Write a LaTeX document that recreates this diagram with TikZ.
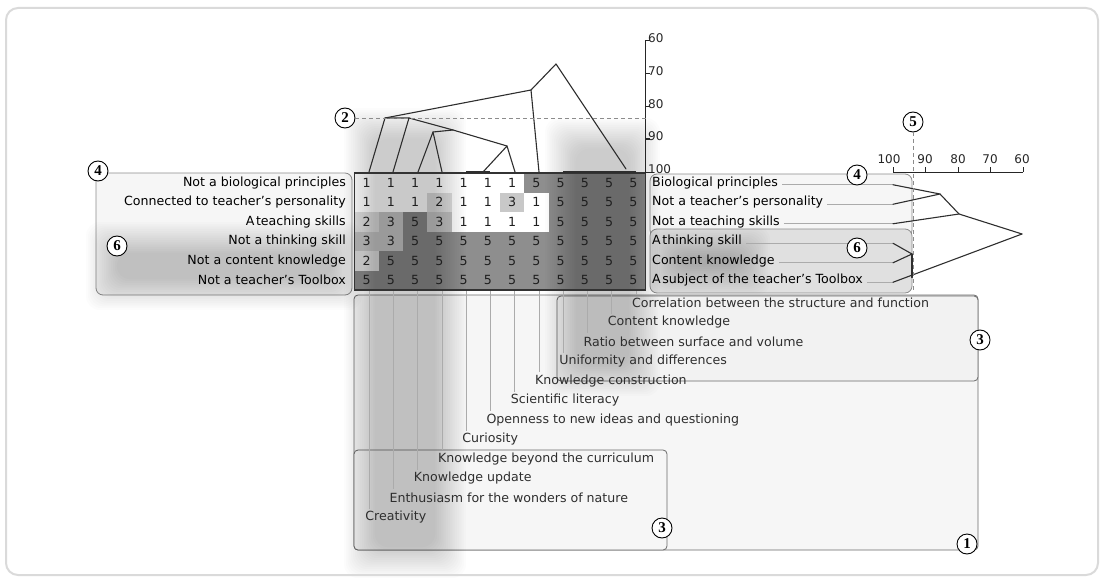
\documentclass[tikz,border=0pt]{standalone}
\usepackage{fontspec}
\setmainfont{DejaVu Sans}
\newfontfamily\tagfont{Liberation Serif}
\definecolor{framegray}{HTML}{DADADA}
\definecolor{boxline}{HTML}{6A6A6A}
\definecolor{boxfill}{HTML}{F6F6F6}
\definecolor{leafline}{HTML}{ABABAB}
\definecolor{val1}{HTML}{FFFFFF}
\definecolor{val2}{HTML}{E2E2E2}
\definecolor{val3}{HTML}{C8C8C8}
\definecolor{val5}{HTML}{8E8E8E}
\pgfdeclarelayer{back}
\pgfdeclarelayer{haze}
\pgfsetlayers{back,haze,main}
% soft grey patch: left x, top y, right x, bottom y
\newcommand\softpatch[4]{%
  \foreach \k in {0,...,17}{%
    \fill[black, opacity=0.0135, rounded corners=14pt]
      (#1+\k*1.8, #2+\k*1.8) rectangle (#3-\k*1.8, #4-\k*1.8);}}
\begin{document}
\begin{tikzpicture}[x=1pt, y=-1pt,
  lbl/.style={inner sep=0pt, font=\fontsize{12.6}{14}\selectfont},
  rowL/.style={lbl, anchor=east},
  rowR/.style={lbl, anchor=west},
  colL/.style={lbl, anchor=west, text=black!82},
  num/.style={inner sep=0pt, font=\fontsize{12.6}{14}\selectfont, text=black!88},
  axlbl/.style={inner sep=0pt, font=\fontsize{12}{14}\selectfont, text=black!85},
  tag/.style={circle, draw=black, line width=0.9pt, fill=white, inner sep=0pt,
    minimum size=20pt, font=\tagfont\bfseries\fontsize{15}{15}\selectfont},
  grp/.style={draw=boxline, line width=0.8pt, rounded corners=4pt},
  dend/.style={draw=black!82, line width=1.1pt, line join=round, line cap=round},
  bar/.style={draw=black!82, line width=2.2pt},
  leaf/.style={draw=leafline, line width=0.6pt},
  guide/.style={draw=black!45, line width=0.7pt, dash pattern=on 4pt off 3pt},
  axis/.style={draw=black!85, line width=1pt}]
\useasboundingbox (0,0) rectangle (1105,583);

% outer frame
\draw[framegray, line width=2pt, rounded corners=12pt] (6,8) rectangle (1098,575);

% group boxes
\begin{pgfonlayer}{back}
  \draw[grp, draw=black!45, fill=boxfill, rounded corners=7pt] (96,173) rectangle (352,295);
  \draw[grp, draw=black!45, fill=boxfill, rounded corners=7pt] (650,174) rectangle (912,237);
  \draw[grp, draw=black!45, fill=black!12, rounded corners=7pt] (650,229) rectangle (912,293);
  \draw[grp, fill=boxfill] (354,295) rectangle (978,550);
  \draw[grp, fill=black!5] (557,296) rectangle (978,381);
  \draw[grp, fill=boxfill] (354,450) rectangle (667,550);
\end{pgfonlayer}

% rating grid
\foreach \r/\vals in {1/{1,1,1,1,1,1,1,5,5,5,5,5},
                      2/{1,1,1,2,1,1,3,1,5,5,5,5},
                      3/{2,3,5,3,1,1,1,1,5,5,5,5},
                      4/{3,3,5,5,5,5,5,5,5,5,5,5},
                      5/{2,5,5,5,5,5,5,5,5,5,5,5},
                      6/{5,5,5,5,5,5,5,5,5,5,5,5}}{
  \foreach \v [count=\c] in \vals {
    \pgfmathsetmacro\cx{354.5+24.25*(\c-0.5)}
    \pgfmathsetmacro\cy{173+19.5*(\r-0.5)}
    \begin{pgfonlayer}{back}
      \fill[val\v] (\cx-12.125,\cy-9.75) rectangle (\cx+12.125,\cy+9.75);
    \end{pgfonlayer}
    \node[num] (g\r-\c) at (\cx,\cy) {\v};
  }
}
\draw[black!80, line width=1.5pt] (354.5,173) rectangle (645.5,290);

% soft highlights
\begin{pgfonlayer}{haze}
  \softpatch{344}{108}{466}{578}
  \softpatch{545}{118}{660}{396}
  \softpatch{86}{222}{362}{310}
  \softpatch{648}{226}{770}{296}
\end{pgfonlayer}

% row poles, left
\foreach \t [count=\i] in {Not a biological principles,
    Connected to teacher’s personality,
    A\kern1.5pt teaching skills,
    Not a thinking skill,
    Not a content knowledge,
    Not a teacher’s Toolbox}{
  \pgfmathsetmacro\cy{173+19.5*(\i-0.5)}
  \node[rowL] (rl\i) at (346,\cy) {\t};
}

% row poles, right, with leaf lines to the dendrogram
\foreach \t [count=\i] in {Biological principles,
    Not a teacher’s personality,
    Not a teaching skills,
    A\kern1.5pt thinking skill,
    Content knowledge,
    A\kern1.5pt subject of the teacher’s Toolbox}{
  \pgfmathsetmacro\cy{173+19.5*(\i-0.5)}
  \node[rowR] (rr\i) at (652,\cy) {\t};
  \coordinate (rk\i) at (893,\cy+2);
  \draw[leaf] (rr\i.east) ++(4,2) -- (rk\i);
}

% column labels and leaf lines below the grid
\foreach \t [count=\c] in {Creativity,
    Enthusiasm for the wonders of nature,
    Knowledge update,
    Knowledge beyond the curriculum,
    Curiosity,
    Openness to new ideas and questioning,
    Scientific literacy,
    Knowledge construction,
    Uniformity and differences,
    Ratio between surface and volume,
    Content knowledge,
    Correlation between the structure and function}{
  \pgfmathsetmacro\lx{354.5+24.25*(\c-0.5)+2.5}
  \pgfmathsetmacro\ly{303+19.5*(12-\c)}
  \coordinate (cb\c) at (\lx,291);
  \coordinate (ce\c) at (\lx,\ly-9);
  \draw[leaf] (cb\c) -- (ce\c);
  \node[colL] (cl\c) at (\lx-4,\ly) {\t};
}

% column dendrogram scale
\coordinate (ax60) at (645,41);
\coordinate (ax100) at (645,172);
\draw[axis] (ax60) -- (ax100);
\foreach \v/\y in {60/41,70/74,80/107,90/139,100/172}{
  \draw[axis] (645,\y) -- (650,\y);
  \node[axlbl, anchor=base west] (ay\v) at (648,\y+1.5) {\v};
}

% column dendrogram
\coordinate (t1) at (369,172);
\coordinate (t2) at (393,172);
\coordinate (t3) at (418,172);
\coordinate (t4) at (442,172);
\coordinate (t56) at (483,172);
\coordinate (t7) at (515,172);
\coordinate (t8) at (539,172);
\coordinate (n1) at (385,118);
\coordinate (n2) at (409,118);
\coordinate (n34) at (433,132);
\coordinate (nA) at (453,130);
\coordinate (n567) at (507,146);
\coordinate (nB) at (531,90);
\coordinate (nTop) at (556,64);
\coordinate (n9) at (626,169);
\draw[bar] (466,172) -- (490,172);
\draw[bar] (563,172) -- (636,172);
\draw[dend] (t1) -- (n1) -- (n2) -- (t2);
\draw[dend] (t3) -- (n34) -- (t4);
\draw[dend] (n34) -- (nA);
\draw[dend] (t56) -- (n567) -- (t7);
\draw[dend] (n567) -- (nA) -- (n2);
\draw[dend] (n1) -- (nB) -- (t8);
\draw[dend] (nB) -- (nTop) -- (n9);

% row dendrogram scale
\draw[axis] (893,172) -- (1023,172);
\foreach \v/\x in {100/893,90/925,80/958,70/990,60/1023}{
  \draw[axis] (\x,172) -- (\x,167);
}
\foreach \v/\x in {100/889,90/925,80/958,70/990,60/1022}{
  \node[axlbl] (bx\v) at (\x,159) {\v};
}

% row dendrogram
\coordinate (ra) at (940,194);
\coordinate (rb) at (959,214);
\coordinate (rtop) at (1022,234);
\coordinate (rc) at (912,254);
\coordinate (rd) at (912,277.5);
\draw[dend] (rk1) -- (ra) -- (rk2);
\draw[dend] (ra) -- (rb);
\draw[dend] (rk3) -- (rb) -- (rtop);
\draw[dend] (rk4) -- (rc) -- (rk5);
\draw[dend] (rc) -- (rd);
\draw[dend] (rk6) -- (rtop);

% cut-off guides
\node[tag] (tag2) at (345,118) {2};
\coordinate (g2end) at (647,118);
\draw[guide] (tag2.east) -- (g2end);
\node[tag] (tag5) at (913,122) {5};
\coordinate (g5end) at (913,293);
\draw[guide] (tag5.south) -- (g5end);

% group tags
\node[tag] (tag4l) at (98,171) {4};
\node[tag] (tag6l) at (117,246) {6};
\node[tag] (tag4r) at (857,175) {4};
\node[tag] (tag6r) at (857,248) {6};
\node[tag] (tag3a) at (980,340) {3};
\node[tag] (tag3b) at (662,528) {3};
\node[tag] (tag1) at (967,544) {1};
\end{tikzpicture}
\end{document}
